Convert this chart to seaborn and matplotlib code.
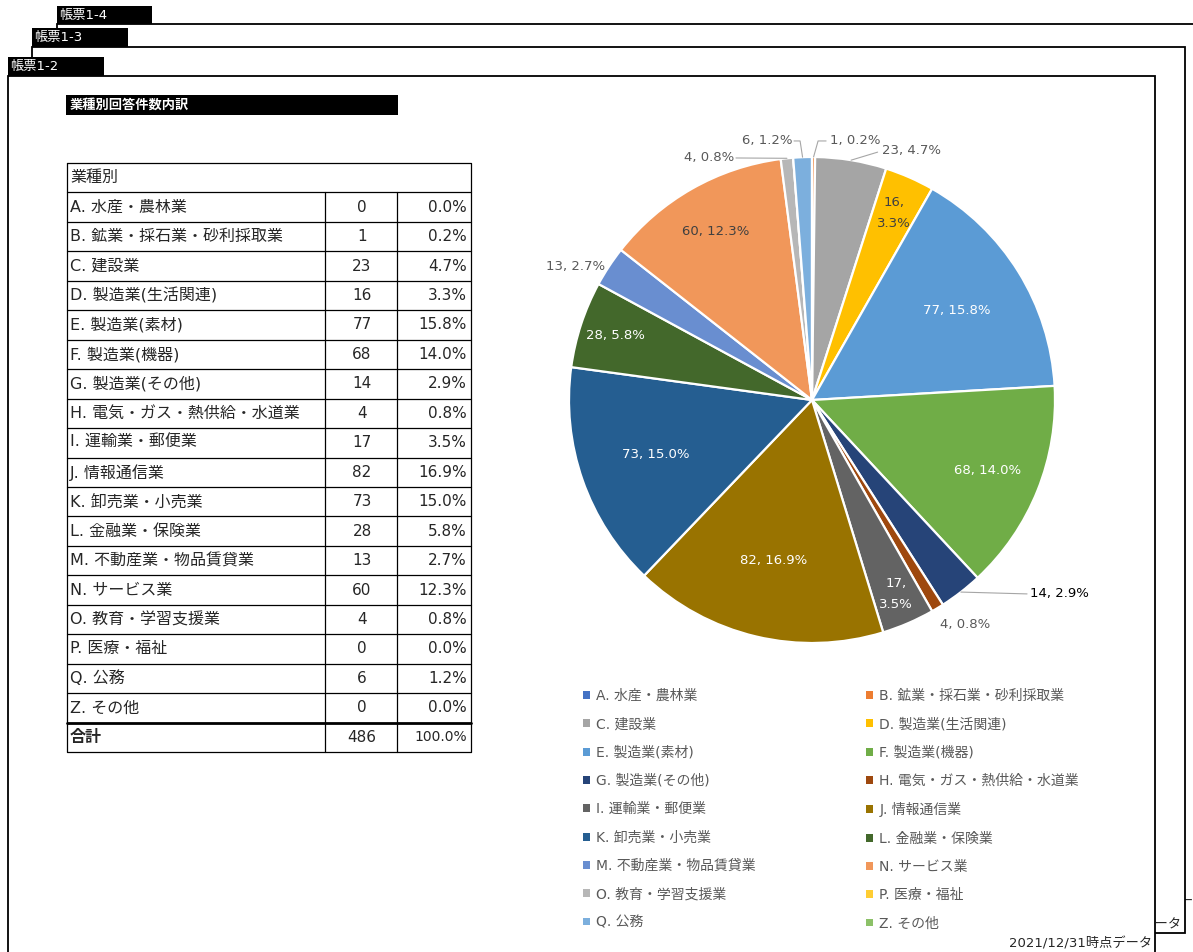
import matplotlib
matplotlib.use("Agg")
import matplotlib.pyplot as plt
import matplotlib.patches as mpatches
import numpy as np
import seaborn as sns

# ---------------- data ----------------
categories = ["A. 水産・農林業", "B. 鉱業・採石業・砂利採取業", "C. 建設業", "D. 製造業(生活関連)",
              "E. 製造業(素材)", "F. 製造業(機器)", "G. 製造業(その他)", "H. 電気・ガス・熱供給・水道業",
              "I. 運輸業・郵便業", "J. 情報通信業", "K. 卸売業・小売業", "L. 金融業・保険業",
              "M. 不動産業・物品賃貸業", "N. サービス業", "O. 教育・学習支援業", "P. 医療・福祉",
              "Q. 公務", "Z. その他"]
codes = ["A", "B", "C", "D", "E", "F", "G", "H", "I", "J", "K", "L", "M", "N", "O", "P", "Q", "Z"]
counts = [0, 1, 23, 16, 77, 68, 14, 4, 17, 82, 73, 28, 13, 60, 4, 0, 6, 0]
percents = ["0.0%", "0.2%", "4.7%", "3.3%", "15.8%", "14.0%", "2.9%", "0.8%", "3.5%", "16.9%",
            "15.0%", "5.8%", "2.7%", "12.3%", "0.8%", "0.0%", "1.2%", "0.0%"]
header_label = "業種別"
total_label = "合計"
total_count = 486
total_percent = "100.0%"
title_text = "業種別回答件数内訳"
tab_labels = ["帳票1-4", "帳票1-3", "帳票1-2"]
date_text = "2021/12/31時点データ"
colors = ["#4472C4", "#ED7D31", "#A5A5A5", "#FFC000", "#5B9BD5", "#70AD47", "#264478", "#9E480E",
          "#636363", "#997300", "#255E91", "#43682B", "#698ED0", "#F1975A", "#B7B7B7", "#FFCD33",
          "#7CAFDD", "#8CC168"]

# ---------------- style ----------------
sns.set_theme(style="white")
plt.rcParams["font.family"] = ["DejaVu Sans", "Noto Sans CJK JP"]
palette = sns.color_palette(colors)

W, H = 1193, 952
fig = plt.figure(figsize=(W / 100, H / 100), dpi=100)
fig.patch.set_facecolor("white")
bg = fig.add_axes([0, 0, 1, 1])
bg.set_xlim(0, W)
bg.set_ylim(H, 0)
bg.axis("off")

LW = 1.3


def rect(x0, y0, x1, y1, z, **kw):
    bg.add_patch(mpatches.Rectangle((x0, y0), x1 - x0, y1 - y0, zorder=z, **kw))


# ---------------- stacked frames ----------------
# frame 1-4 (back)
rect(57, 24, 1400, 1100, 1, fc="white", ec="black", lw=LW)
bg.text(1193, 901, "ー", ha="right", va="center", fontsize=9.5, zorder=1.1)
rect(57, 6, 152, 24, 1.2, fc="black", ec="none")
bg.text(59, 15, tab_labels[0], color="white", fontsize=9.5, ha="left", va="center", zorder=1.3)
# frame 1-3
rect(32, 47, 1185, 933, 2, fc="white", ec="black", lw=LW)
bg.text(1181, 925, date_text, ha="right", va="center", fontsize=9.5, zorder=2.1)
rect(32, 28, 128, 47, 2.2, fc="black", ec="none")
bg.text(34, 37.5, tab_labels[1], color="white", fontsize=9.5, ha="left", va="center", zorder=2.3)
# frame 1-2 (front)
rect(8, 76, 1155, 1100, 3, fc="white", ec="black", lw=LW)
rect(8, 57, 104, 76, 3.2, fc="black", ec="none")
bg.text(10, 66.5, tab_labels[2], color="white", fontsize=9.5, ha="left", va="center", zorder=3.3)
bg.text(1152, 944, date_text, ha="right", va="center", fontsize=9.5, zorder=3.4)

# title box
rect(66, 95, 398, 115, 4, fc="black", ec="none")
bg.text(70, 105, title_text, color="white", fontsize=9.5, fontweight="bold",
        ha="left", va="center", zorder=4.1)

# ---------------- table ----------------
X0, X1, X2, X3 = 67, 325, 397, 471
Y0 = 163
RH = 29.45
nrows = len(categories) + 2
Yb = Y0 + nrows * RH
TZ = 5
tl = 0.9
bg.plot([X0, X3, X3, X0, X0], [Y0, Y0, Yb, Yb, Y0], color="black", lw=tl, zorder=TZ)
for r in range(1, nrows):
    y = Y0 + r * RH
    lw = 2.0 if r == nrows - 1 else tl
    bg.plot([X0, X3], [y, y], color="black", lw=lw, zorder=TZ)
for x in (X1, X2):
    bg.plot([x, x], [Y0 + RH, Yb], color="black", lw=tl, zorder=TZ)

bg.text(X0 + 3, Y0 + 0.5 * RH, header_label, fontsize=11.5, ha="left", va="center", zorder=TZ + 1)
for i, (cat, cnt, pct) in enumerate(zip(categories, counts, percents)):
    y = Y0 + (i + 1.5) * RH
    bg.text(X0 + 3, y, cat, fontsize=11.5, ha="left", va="center", zorder=TZ + 1)
    bg.text((X1 + X2) / 2 + 1, y, str(cnt), fontsize=11, ha="center", va="center", zorder=TZ + 1)
    bg.text(X3 - 4, y, pct, fontsize=11, ha="right", va="center", zorder=TZ + 1)
yt = Y0 + (nrows - 0.5) * RH
bg.text(X0 + 3, yt, total_label, fontsize=11.5, fontweight="bold", ha="left", va="center", zorder=TZ + 1)
bg.text((X1 + X2) / 2 + 1, yt, str(total_count), fontsize=11, ha="center", va="center", zorder=TZ + 1)
bg.text(X3 - 4, yt, total_percent, fontsize=10, ha="right", va="center", zorder=TZ + 1)

# ---------------- pie ----------------
CX, CY, R = 812, 400, 243
pax = fig.add_axes([(CX - R) / W, (H - CY - R) / H, 2 * R / W, 2 * R / H])
wedges, _ = pax.pie(counts, colors=palette, startangle=90, counterclock=False, radius=1,
                    wedgeprops=dict(edgecolor="white", linewidth=1.6))
pax.set_xlim(-1, 1)
pax.set_ylim(-1, 1)
pax.set_aspect("equal")
pax.axis("off")

# label layout (presentation only)
inside = {"D": (0.84, "#404040", True), "E": (0.70, "white", False), "F": (0.78, "white", False),
          "I": (0.87, "white", True), "J": (0.68, "white", False), "K": (0.68, "white", False),
          "L": (0.85, "white", False), "N": (0.80, "#404040", False)}
outside = {
    "B": dict(pos=(0.074, 1.066), ha="left", path=[(0.025, 1.066), (0.058, 1.066)], color="#595959"),
    "C": dict(pos=(0.288, 1.025), ha="left", path=[(0.27, 1.02)], color="#595959"),
    "Q": dict(pos=(-0.082, 1.066), ha="right", path=[(-0.049, 1.066), (-0.074, 1.066)], color="#595959"),
    "O": dict(pos=(-0.321, 0.996), ha="right", path=[(-0.313, 0.996)], color="#595959"),
    "M": dict(pos=(-0.852, 0.551), ha="right", path=None, color="#595959"),
    "G": dict(pos=(0.897, -0.798), ha="left", path=[(0.885, -0.798)], color="black"),
    "H": dict(pos=(0.63, -0.922), ha="center", path=None, color="#595959"),
}
for w, code, cnt, pct in zip(wedges, codes, counts, percents):
    if cnt == 0:
        continue
    mid = np.deg2rad((w.theta1 + w.theta2) / 2)
    if code in inside:
        rf, col, two = inside[code]
        txt = f"{cnt},\n{pct}" if two else f"{cnt}, {pct}"
        pax.text(rf * np.cos(mid), rf * np.sin(mid), txt, color=col, fontsize=9.5,
                 ha="center", va="center", linespacing=1.75, clip_on=False)
    elif code in outside:
        o = outside[code]
        if o["path"]:
            pts = [(np.cos(mid), np.sin(mid))] + o["path"]
            xs, ys = zip(*pts)
            pax.plot(xs, ys, color="#A6A6A6", lw=0.8, clip_on=False)
        pax.text(o["pos"][0], o["pos"][1], f"{cnt}, {pct}", color=o["color"], fontsize=9.5,
                 ha=o["ha"], va="center", clip_on=False)

# ---------------- legend (two columns, row-major order) ----------------
handles = [mpatches.Patch(facecolor=c, edgecolor="none") for c in palette]
leg_kw = dict(loc="upper left", frameon=False, fontsize=10, handlelength=0.5, handleheight=0.5,
              handletextpad=0.45, labelspacing=1.03, borderpad=0, borderaxespad=0,
              labelcolor="#595959")
left_idx = list(range(0, len(categories), 2))
right_idx = list(range(1, len(categories), 2))
fig.legend([handles[i] for i in left_idx], [categories[i] for i in left_idx],
           bbox_to_anchor=(583 / W, 1 - 689 / H), **leg_kw)
fig.legend([handles[i] for i in right_idx], [categories[i] for i in right_idx],
           bbox_to_anchor=(866 / W, 1 - 689 / H), **leg_kw)

fig.savefig("out.png", dpi=100, facecolor="white")
